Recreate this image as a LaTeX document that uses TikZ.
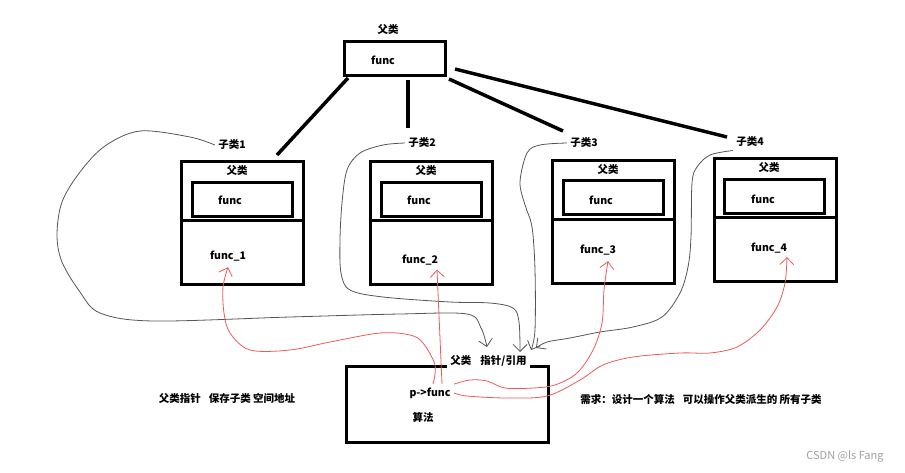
\documentclass[tikz,border=0pt]{standalone}
\usepackage{fontspec}
\setmainfont{Noto Sans CJK SC}
\usetikzlibrary{arrows.meta,positioning}
\definecolor{callred}{RGB}{236,90,90}
\definecolor{refgray}{RGB}{85,85,85}

\begin{document}
\begin{tikzpicture}[x=1pt,y=-1pt,>={Straight Barb[length=7pt,width=14pt]},
    font=\bfseries\fontsize{10.5}{12.6}\selectfont]
            \tikzstyle{box}=[draw, line width=3pt, outer sep=0pt, inner sep=0pt]
            \tikzstyle{upperbox}=[box, minimum width=122pt, minimum height=59pt]
            \tikzstyle{lowerbox}=[box, minimum width=122pt, minimum height=64pt]
            \tikzstyle{innerbox}=[box, minimum width=100pt, minimum height=34pt]
            \tikzstyle{branch}=[line width=3.5pt]
            \tikzstyle{refline}=[refgray, line width=0.8pt, ->]
            \tikzstyle{callline}=[callred, line width=0.8pt, ->]

            \useasboundingbox (0,0) rectangle (905,472);

            % parent class
            \node[box, minimum width=101pt, minimum height=34pt] (base) at (394.5,58) {};
            \node (basefunc) at (383,60) {func};
            \node (basename) at (388,30) {父类};

            % child classes
            \node[upperbox] (up1) at (242,190.5) {};
            \node[lowerbox, below=0pt of up1] (low1) {};
            \node[innerbox] (in1) at (242,199) {};
            \node (name1) at (237,171) {父类};
            \node (func1) at (230,200) {func};
            \node (own1) at (228,256) {func\_1};
            \node (sub1) at (232,145) {子类1};

            \node[upperbox] (up2) at (431.5,190.5) {};
            \node[lowerbox, below=0pt of up2] (low2) {};
            \node[innerbox] (in2) at (431,199.5) {};
            \node (name2) at (426,171) {父类};
            \node (func2) at (419,200) {func};
            \node (own2) at (420,260) {func\_2};
            \node (sub2) at (422,143) {子类2};

            \node[upperbox] (up3) at (613,189.5) {};
            \node[lowerbox, below=0pt of up3] (low3) {};
            \node[innerbox] (in3) at (613,197.5) {};
            \node (name3) at (608,170) {父类};
            \node (func3) at (601,200) {func};
            \node (own3) at (598,250) {func\_3};
            \node (sub3) at (584,143) {子类3};

            \node[upperbox] (up4) at (775,188) {};
            \node[lowerbox, below=0pt of up4] (low4) {};
            \node[innerbox] (in4) at (774.5,196) {};
            \node (name4) at (769,168) {父类};
            \node (func4) at (763,199) {func};
            \node (own4) at (769,248) {func\_4};
            \node (sub4) at (750,142) {子类4};

            \draw[branch] ([xshift=4pt,yshift=-3pt]base.south west) -- ([xshift=-26pt,yshift=6pt]up1.north east);
            \draw[branch] ([xshift=13.5pt,yshift=-5pt]base.south) -- ([xshift=-14pt,yshift=15pt]sub2.center);
            \draw[branch] ([xshift=4pt,yshift=-4pt]base.south east) -- ([xshift=-21pt,yshift=12pt]sub3.center);
            \draw[branch] ([xshift=10pt,yshift=-11pt]base.east) -- ([xshift=-23pt,yshift=5pt]sub4.center);

            % algorithm box
            \node[minimum width=201pt, minimum height=75pt, inner sep=0pt] (algo) at (447.5,404.5) {};
            \node (ptr) at (488.5,361) {父类\hspace{9pt}指针/引用};
            \draw[box] (ptr.south west |- algo.north) -- (algo.north west) -- (algo.south west)
                -- (algo.south east) -- (algo.north east) -- (ptr.south east |- algo.north);
            \node (call) at (430,393) {p->func};
            \node (algoname) at (423,417) {算法};

            \node (note) at (227,398) {父类指针\hspace{8pt}保存子类 空间地址};
            \node (goal) at (701,399) {需求：设计一个算法\hspace{8pt}可以操作父类派生的 所有子类};
            \node[font=\mdseries\fontsize{11}{13}\selectfont, gray!75] (mark) at (845,456) {CSDN @ls Fang};

            % child -> pointer
            \coordinate (ptrin1) at (487,347);
            \coordinate (ptrin2) at (520,352);
            \coordinate (ptrin3) at (531,350);
            \coordinate (ptrin4) at (536,348);
            \draw[refline] plot[smooth, tension=0.55] coordinates {(sub1.west) (190,137) (140,131) (105,146)
                (80,172) (62,202) (57,235) (62,262) (80,292) (100,313) (153,321) (290,317) (400,314)
                (467,314) (481,328) (ptrin1)};
            \draw[refline] plot[smooth, tension=0.55] coordinates {(sub2.west) (383,145) (360,153) (347,170)
                (342,203) (340,240) (341,273) (350,290) (383,297) (450,302) (490,303) (513,308)
                (519,322) (ptrin2)};
            \draw[refline] plot[smooth, tension=0.55] coordinates {(sub3.west) (540,145) (527,153) (520,182)
                (525,205) (532,227) (535,270) (535,330) (ptrin3)};
            \draw[refline] plot[smooth, tension=0.55] coordinates {(sub4.south west) (710,155) (697,167)
                (692,183) (691,237) (688,267) (680,293) (662,317) (633,327) (600,332) (570,338)
                (547,342) (ptrin4)};

            % pointer call -> child functions
            \coordinate (tip1) at ([yshift=-2.5pt]own1.south);
            \coordinate (tip2) at ([xshift=17pt,yshift=-1pt]own2.south);
            \coordinate (tip3) at ([xshift=10pt,yshift=-2.5pt]own3.south);
            \coordinate (tip4) at ([xshift=18pt,yshift=-0.5pt]own4.south);
            \draw[callline] plot[smooth, tension=0.55] coordinates {([xshift=3pt]call.north) (435,365)
                (423,343) (410,335) (380,333) (330,342) (290,350) (250,350) (230,333) (224,313)
                (223,287) (tip1)};
            \draw[callline] ([xshift=12pt]call.north) -- (tip2);
            \draw[callline] plot[smooth, tension=0.55] coordinates {(call.north east) (470,380) (487,381)
                (505,388) (533,388) (555,385) (577,373) (593,350) (602,323) (604,290) (tip3)};
            \draw[callline] plot[smooth, tension=0.55] coordinates {(call.east) (467,396) (507,398)
                (547,396) (580,380) (603,365) (633,357) (680,353) (710,353) (737,347) (760,330)
                (777,307) (785,283) (tip4)};

        \end{tikzpicture}
\end{document}
